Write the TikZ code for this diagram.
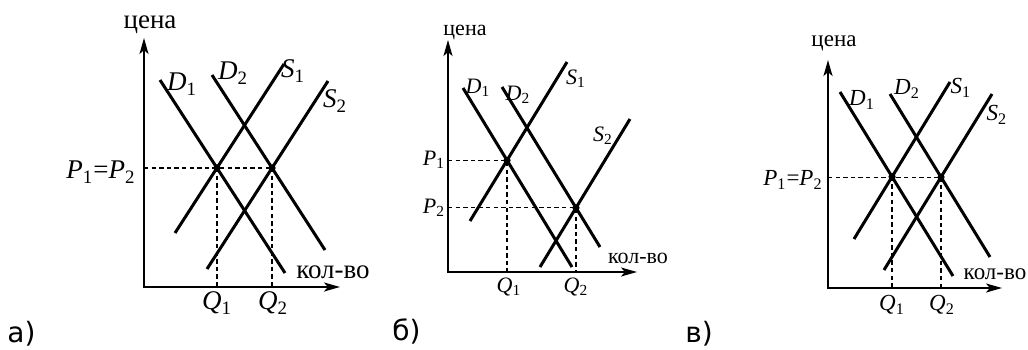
\documentclass[tikz,border=0pt]{standalone}
\usepackage{fontspec}
\setmainfont{Liberation Serif}
\newfontfamily\panelfont{DejaVu Sans}
\usetikzlibrary{arrows.meta}
\newcommand{\ix}[2]{\textit{#1}\textsubscript{#2}}
\tikzset{
    curve/.style={line width=1.5pt},
    axis/.style={line width=1.1pt, {Stealth[length=8pt, width=4.5pt, inset=2pt]}-{Stealth[length=8pt, width=4.5pt, inset=2pt]}},
    guide/.style={line width=0.6pt, dash pattern=on 2.2pt off 1.6pt},
    eqdot/.style={circle, fill, inner sep=0pt, minimum size=3.6pt},
    lbl/.style={inner sep=0pt},
    tag/.style={inner sep=0pt, anchor=west, font=\panelfont\fontsize{14}{16}\selectfont}
}

\begin{document}
\begin{tikzpicture}[x=0.5pt, y=-0.5pt]
    \useasboundingbox (0,0) rectangle (1028,349);

    % Panel a: both curves shift, price unchanged
    \begin{scope}[lbl/.append style={font=\rmfamily\fontsize{13.5}{16}\selectfont}]
        \coordinate (aO) at (144,287);
        \coordinate (aY) at (144,38);
        \coordinate (aX) at (340,287);
        \coordinate (aD1a) at (160,80);  \coordinate (aD1b) at (285,273);
        \coordinate (aD2a) at (212,75);  \coordinate (aD2b) at (325,250);
        \coordinate (aS1a) at (175,233); \coordinate (aS1b) at (284,64);
        \coordinate (aS2a) at (207,269); \coordinate (aS2b) at (328,81);
        \coordinate (aE1) at (intersection of aD1a--aD1b and aS1a--aS1b);
        \coordinate (aE2) at (intersection of aD2a--aD2b and aS2a--aS2b);

        \draw[guide] (aO |- aE2) -- (aE2);
        \draw[guide] (aE1) -- (aE1 |- aO);
        \draw[guide] (aE2) -- (aE2 |- aO);
        \draw[axis] (aY) -- (aO) -- (aX);
        \draw[curve] (aD1a) -- (aD1b);
        \draw[curve] (aD2a) -- (aD2b);
        \draw[curve] (aS1a) -- (aS1b);
        \draw[curve] (aS2a) -- (aS2b);
        \node[eqdot] (aPt1) at (aE1) {};
        \node[eqdot] (aPt2) at (aE2) {};

        \node[lbl] (aPrice) at (150,25) {цена};
        \node[lbl] (aQty) at (333,272) {кол-во};
        \node[lbl] (aP) at (101,172) {\ix{P}{1}=\ix{P}{2}};
        \node[lbl] (aD1) at (182,84) {\ix{D}{1}};
        \node[lbl] (aD2) at (233,73) {\ix{D}{2}};
        \node[lbl] (aS1) at (293,71) {\ix{S}{1}};
        \node[lbl] (aS2) at (335,101) {\ix{S}{2}};
        \node[lbl] (aQ1) at (217,303) {\ix{Q}{1}};
        \node[lbl] (aQ2) at (273,303) {\ix{Q}{2}};
        \node[tag] (aTag) at (7,334) {а)};
    \end{scope}

    % Panel b: supply shifts further, price falls
    \begin{scope}[lbl/.append style={font=\rmfamily\fontsize{11}{13}\selectfont}]
        \coordinate (bO) at (448,272);
        \coordinate (bY) at (448,40);
        \coordinate (bX) at (637,272);
        \coordinate (bD1a) at (463,88);  \coordinate (bD1b) at (572,267);
        \coordinate (bD2a) at (502,87);  \coordinate (bD2b) at (600,247);
        \coordinate (bS1a) at (470,221); \coordinate (bS1b) at (567,62);
        \coordinate (bS2a) at (540,267); \coordinate (bS2b) at (630,119);
        \coordinate (bE1) at (intersection of bD1a--bD1b and bS1a--bS1b);
        \coordinate (bE2) at (intersection of bD2a--bD2b and bS2a--bS2b);

        \draw[guide] (bO |- bE1) -- (bE1) -- (bE1 |- bO);
        \draw[guide] (bO |- bE2) -- (bE2) -- (bE2 |- bO);
        \draw[axis] (bY) -- (bO) -- (bX);
        \draw[curve] (bD1a) -- (bD1b);
        \draw[curve] (bD2a) -- (bD2b);
        \draw[curve] (bS1a) -- (bS1b);
        \draw[curve] (bS2a) -- (bS2b);
        \node[eqdot] (bPt1) at (bE1) {};
        \node[eqdot] (bPt2) at (bE2) {};

        \node[lbl] (bPrice) at (465,32) {цена};
        \node[lbl] (bQty) at (638,258) {кол-во};
        \node[lbl] (bP1) at (434,160) {\ix{P}{1}};
        \node[lbl] (bP2) at (434,208) {\ix{P}{2}};
        \node[lbl] (bD1) at (478,88) {\ix{D}{1}};
        \node[lbl] (bD2) at (518,95) {\ix{D}{2}};
        \node[lbl] (bS1) at (576,79) {\ix{S}{1}};
        \node[lbl] (bS2) at (603,136) {\ix{S}{2}};
        \node[lbl] (bQ1) at (509,287) {\ix{Q}{1}};
        \node[lbl] (bQ2) at (576,287) {\ix{Q}{2}};
        \node[tag] (bTag) at (392,331) {б)};
    \end{scope}

    % Panel c: same as a, smaller scale
    \begin{scope}[lbl/.append style={font=\rmfamily\fontsize{11.5}{13.5}\selectfont}]
        \coordinate (cO) at (828,288);
        \coordinate (cY) at (828,60);
        \coordinate (cX) at (1002,288);
        \coordinate (cD1a) at (840,92);  \coordinate (cD1b) at (953,276);
        \coordinate (cD2a) at (890,94);  \coordinate (cD2b) at (990,257);
        \coordinate (cS1a) at (854,239); \coordinate (cS1b) at (950,82);
        \coordinate (cS2a) at (884,270); \coordinate (cS2b) at (992,94);
        \coordinate (cE1) at (intersection of cD1a--cD1b and cS1a--cS1b);
        \coordinate (cE2) at (intersection of cD2a--cD2b and cS2a--cS2b);

        \draw[guide] (cO |- cE2) -- (cE2);
        \draw[guide] (cE1) -- (cE1 |- cO);
        \draw[guide] (cE2) -- (cE2 |- cO);
        \draw[axis] (cY) -- (cO) -- (cX);
        \draw[curve] (cD1a) -- (cD1b);
        \draw[curve] (cD2a) -- (cD2b);
        \draw[curve] (cS1a) -- (cS1b);
        \draw[curve] (cS2a) -- (cS2b);
        \node[eqdot] (cPt1) at (cE1) {};
        \node[eqdot] (cPt2) at (cE2) {};

        \node[lbl] (cPrice) at (834,43) {цена};
        \node[lbl] (cQty) at (995,274) {кол-во};
        \node[lbl] (cP) at (793,180) {\ix{P}{1}=\ix{P}{2}};
        \node[lbl] (cD1) at (862,100) {\ix{D}{1}};
        \node[lbl] (cD2) at (907,89) {\ix{D}{2}};
        \node[lbl] (cS1) at (961,88) {\ix{S}{1}};
        \node[lbl] (cS2) at (997,115) {\ix{S}{2}};
        \node[lbl] (cQ1) at (892,305) {\ix{Q}{1}};
        \node[lbl] (cQ2) at (942,305) {\ix{Q}{2}};
        \node[tag] (cTag) at (685,334) {в)};
    \end{scope}
\end{tikzpicture}
\end{document}
